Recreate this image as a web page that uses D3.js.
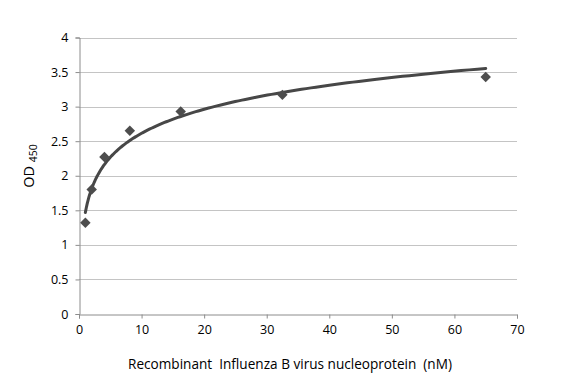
<!DOCTYPE html>
<html>
<head>
<meta charset="utf-8">
<script src="https://cdn.jsdelivr.net/npm/d3@7"></script>
<style>
  html, body { margin: 0; padding: 0; background: #fff; }
  svg { display: block; }
  text { font-family: "Open Sans", "Noto Sans", sans-serif; fill: #000; }
</style>
</head>
<body>
<svg id="chart" width="582" height="382"></svg>
<script>
// Data
const concentrations = [1.015625, 2.03125, 4.0625, 8.125, 16.25, 32.5, 65];
const odValues = [1.32, 1.80, 2.27, 2.65, 2.93, 3.17, 3.43];
const xTicks = [0, 10, 20, 30, 40, 50, 60, 70];
const yTicks = [0, 0.5, 1, 1.5, 2, 2.5, 3, 3.5, 4];
const xTitle = "Recombinant\u00a0 Influenza B virus nucleoprotein\u00a0 (nM)";

const svg = d3.select("#chart");
const margin = { left: 79, right: 65, top: 37.5, bottom: 68 };
const W = 582, H = 382;

const x = d3.scaleLinear().domain([0, 70]).range([margin.left, W - margin.right]);
const y = d3.scaleLinear().domain([0, 4]).range([H - margin.bottom, margin.top]);

// gridlines
svg.append("g").selectAll("line").data(yTicks.filter(d => d > 0)).join("line")
  .attr("x1", x(0)).attr("x2", x(70))
  .attr("y1", d => Math.round(y(d)) + 0.5).attr("y2", d => Math.round(y(d)) + 0.5)
  .attr("stroke", "#c4c4c4").attr("stroke-width", 1);

// y axis
const yAxis = svg.append("g")
  .attr("transform", `translate(${Math.round(x(0)) + 0.5},0)`)
  .call(d3.axisLeft(y).tickValues(yTicks).tickSize(4).tickPadding(7).tickFormat(d3.format("")));
yAxis.select(".domain").attr("stroke", "#8c8c8c");
yAxis.selectAll(".tick line").attr("stroke", "#8c8c8c");
yAxis.selectAll("text").attr("font-size", 12.5).style("font-family", '"Open Sans", sans-serif').attr("fill", "#222");

// x axis
const xAxis = svg.append("g")
  .attr("transform", `translate(0,${Math.round(y(0)) + 0.5})`)
  .call(d3.axisBottom(x).tickValues(xTicks).tickSize(4).tickPadding(7).tickFormat(d3.format("")));
xAxis.select(".domain").attr("stroke", "#8c8c8c");
xAxis.selectAll(".tick line").attr("stroke", "#8c8c8c");
xAxis.selectAll("text").attr("font-size", 12.5).style("font-family", '"Open Sans", sans-serif').attr("fill", "#222");

// logarithmic trendline: least-squares fit of y = a ln(x) + b
const lx = concentrations.map(Math.log);
const mx = d3.mean(lx), my = d3.mean(odValues);
const a = d3.sum(lx, (v, i) => (v - mx) * (odValues[i] - my)) / d3.sum(lx, v => (v - mx) ** 2);
const b = my - a * mx;
const xMin = d3.min(concentrations), xMax = d3.max(concentrations);
const curvePts = d3.range(0, 201).map(i => {
  const t = xMin * Math.pow(xMax / xMin, i / 200);
  return [t, a * Math.log(t) + b];
});
svg.append("path")
  .attr("d", d3.line().x(d => x(d[0])).y(d => y(d[1]))(curvePts))
  .attr("fill", "none").attr("stroke", "#474747").attr("stroke-width", 3)
  .attr("stroke-linecap", "round");

// diamond markers
const diamond = d3.symbol().type(d3.symbolDiamond2).size(70);
svg.append("g").selectAll("path").data(concentrations).join("path")
  .attr("transform", (d, i) => `translate(${x(d)},${y(odValues[i])})`)
  .attr("d", diamond)
  .attr("fill", "#4d4d4d");

// axis titles
svg.append("text")
  .attr("x", 290).attr("y", 369)
  .attr("text-anchor", "middle")
  .attr("font-size", 13.6)
  .text(xTitle);

const yt = svg.append("text")
  .attr("transform", "translate(34,166) rotate(-90)")
  .attr("text-anchor", "middle")
  .attr("font-size", 14.5);
yt.append("tspan").text("OD ");
yt.append("tspan").attr("font-size", 10.5).attr("dy", 3).text("450");
</script>
</body>
</html>
